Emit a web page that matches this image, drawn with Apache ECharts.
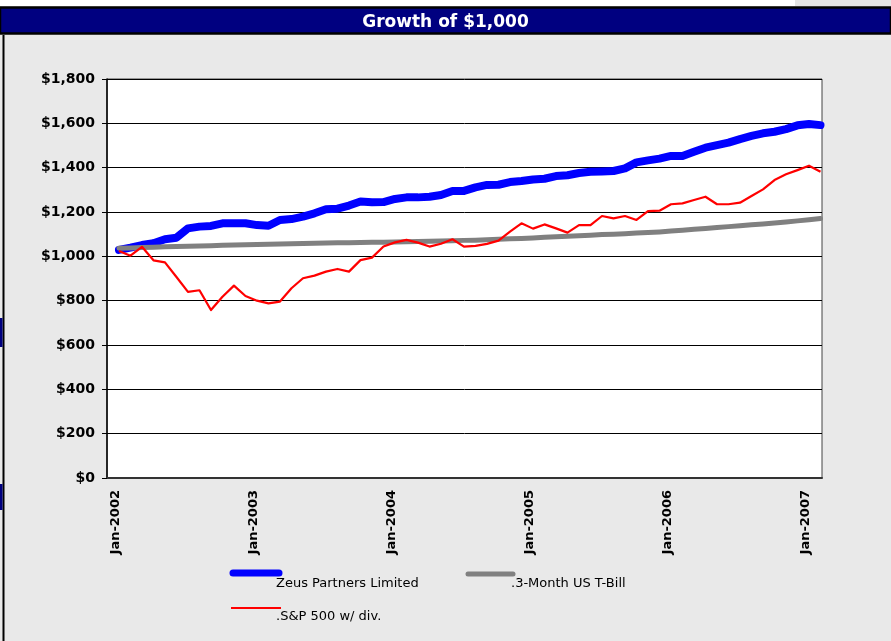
<!DOCTYPE html>
<html>
<head>
<meta charset="utf-8">
<script src="https://cdn.jsdelivr.net/npm/echarts@6/dist/echarts.min.js"></script>
<style>
  html, body { margin: 0; padding: 0; background: #e9e9e9; }
  #main { width: 891px; height: 641px; }
</style>
</head>
<body>
<div id="main"></div>
<script>
// tick labels on the time axis (one per January)
const tickLabels = ['Jan-2002', 'Jan-2003', 'Jan-2004', 'Jan-2005', 'Jan-2006', 'Jan-2007'];
const tickMonths = [0, 12, 24, 36, 48, 60];

const seriesNames = ['Zeus Partners Limited', '.3-Month US T-Bill', '.S&P 500 w/ div.'];

// monthly values, Jan-2002 .. Feb-2007
const zeus = [1029, 1039, 1051, 1059, 1077, 1084, 1126, 1134, 1137, 1149, 1149, 1149,
  1141, 1138, 1164, 1168, 1179, 1194, 1212, 1215, 1229, 1247, 1244, 1245,
  1259, 1266, 1266, 1269, 1277, 1295, 1295, 1311, 1322, 1323, 1335, 1340,
  1347, 1350, 1362, 1366, 1376, 1382, 1383, 1385, 1397, 1424, 1433, 1441,
  1453, 1453, 1472, 1490, 1502, 1513, 1529, 1543, 1555, 1562, 1574, 1591,
  1597, 1592];
const tbill = [1037, 1038, 1040, 1041, 1043, 1044, 1046, 1047, 1048, 1050, 1051, 1052,
  1053, 1054, 1056, 1057, 1058, 1059, 1060, 1061, 1061, 1062, 1063, 1064,
  1065, 1066, 1067, 1068, 1069, 1070, 1072, 1073, 1075, 1077, 1079, 1081,
  1083, 1086, 1088, 1091, 1093, 1095, 1098, 1100, 1102, 1105, 1107, 1110,
  1114, 1118, 1122, 1126, 1130, 1134, 1138, 1142, 1146, 1150, 1155, 1160,
  1165, 1171];
const sp500 = [1024, 1003, 1043, 982, 973, 907, 840, 847, 758, 818, 868, 821,
  800, 788, 796, 856, 901, 913, 931, 943, 931, 983, 994, 1044,
  1063, 1074, 1062, 1044, 1057, 1077, 1044, 1047, 1056, 1071, 1111, 1149,
  1125, 1144, 1126, 1107, 1141, 1141, 1182, 1171, 1182, 1164, 1204, 1206,
  1235, 1239, 1254, 1269, 1235, 1235, 1242, 1272, 1302, 1344, 1370, 1389,
  1409, 1382];

const toPoints = arr => arr.map((v, i) => [i, v]);
const font = 'DejaVu Sans';

const chart = echarts.init(document.getElementById('main'));
chart.setOption({
  animation: false,
  backgroundColor: '#e9e9e9',
  title: {
    text: 'Growth of $1,000',
    left: 'center',
    top: 9,
    z: 10,
    textStyle: { color: '#ffffff', fontFamily: font, fontWeight: 'bold', fontSize: 17 }
  },
  grid: {
    left: 107, right: 69, top: 79, bottom: 163,
    show: true, backgroundColor: '#ffffff',
    borderColor: '#444', borderWidth: 1
  },
  xAxis: {
    type: 'value',
    min: -1.04,
    max: 61.13,
    axisLine: { onZero: false, lineStyle: { color: '#333', width: 2 } },
    axisTick: { show: false },
    splitLine: { show: false },
    axisLabel: {
      customValues: tickMonths.map(m => m - 0.3),
      rotate: 90,
      margin: 12,
      color: '#000',
      fontFamily: font,
      fontWeight: 'bold',
      fontSize: 13,
      formatter: v => tickLabels[Math.round(v / 12)]
    }
  },
  yAxis: {
    type: 'value',
    min: 0,
    max: 1800,
    interval: 200,
    axisLine: { show: true, onZero: false, lineStyle: { color: '#000', width: 1.5 } },
    axisTick: { show: true, length: 5, lineStyle: { color: '#000' } },
    splitLine: { lineStyle: { color: '#000', width: 1 } },
    axisLabel: {
      margin: 12,
      color: '#000',
      fontFamily: font,
      fontWeight: 'bold',
      fontSize: 14,
      formatter: v => '$' + v.toLocaleString('en-US')
    }
  },
  series: [
    {
      name: seriesNames[0], type: 'line', data: toPoints(zeus), symbol: 'none',
      lineStyle: { color: '#0000ff', width: 8, cap: 'round', join: 'round' }
    },
    {
      name: seriesNames[1], type: 'line', data: toPoints(tbill), symbol: 'none',
      lineStyle: { color: '#808080', width: 5, cap: 'round', join: 'round' }
    },
    {
      name: seriesNames[2], type: 'line', data: toPoints(sp500), symbol: 'none',
      lineStyle: { color: '#ff0000', width: 2.2, join: 'round' }
    }
  ],
  graphic: [
    // page frame and title bar
    { type: 'rect', z: 0, shape: { x: 0, y: 0, width: 891, height: 6 }, style: { fill: '#ffffff' } },
    { type: 'rect', z: 0, shape: { x: 795, y: 0, width: 96, height: 6 }, style: { fill: '#e4e4e4' } },
    { type: 'rect', z: 1, shape: { x: 0, y: 7.5, width: 891, height: 26 }, style: { fill: '#000080', stroke: '#000', lineWidth: 2.5 } },
    { type: 'rect', z: 1, shape: { x: 2.5, y: 35, width: 2, height: 606 }, style: { fill: '#000' } },
    { type: 'rect', z: 1, shape: { x: 0, y: 318, width: 2.5, height: 29 }, style: { fill: '#000080' } },
    { type: 'rect', z: 1, shape: { x: 0, y: 484, width: 2.5, height: 26 }, style: { fill: '#000080' } },
    // legend
    { type: 'line', shape: { x1: 233, y1: 573, x2: 279, y2: 573 }, style: { stroke: '#0000ff', lineWidth: 7, lineCap: 'round' } },
    { type: 'text', left: 276, top: 577, style: { text: seriesNames[0], fill: '#000', font: '13px "DejaVu Sans"' } },
    { type: 'line', shape: { x1: 468, y1: 574, x2: 513, y2: 574 }, style: { stroke: '#808080', lineWidth: 5, lineCap: 'round' } },
    { type: 'text', left: 511, top: 577, style: { text: seriesNames[1], fill: '#000', font: '13px "DejaVu Sans"' } },
    { type: 'line', shape: { x1: 231, y1: 608, x2: 281, y2: 608 }, style: { stroke: '#ff0000', lineWidth: 2 } },
    { type: 'text', left: 276, top: 610, style: { text: seriesNames[2], fill: '#000', font: '13px "DejaVu Sans"' } }
  ]
});
</script>
</body>
</html>
